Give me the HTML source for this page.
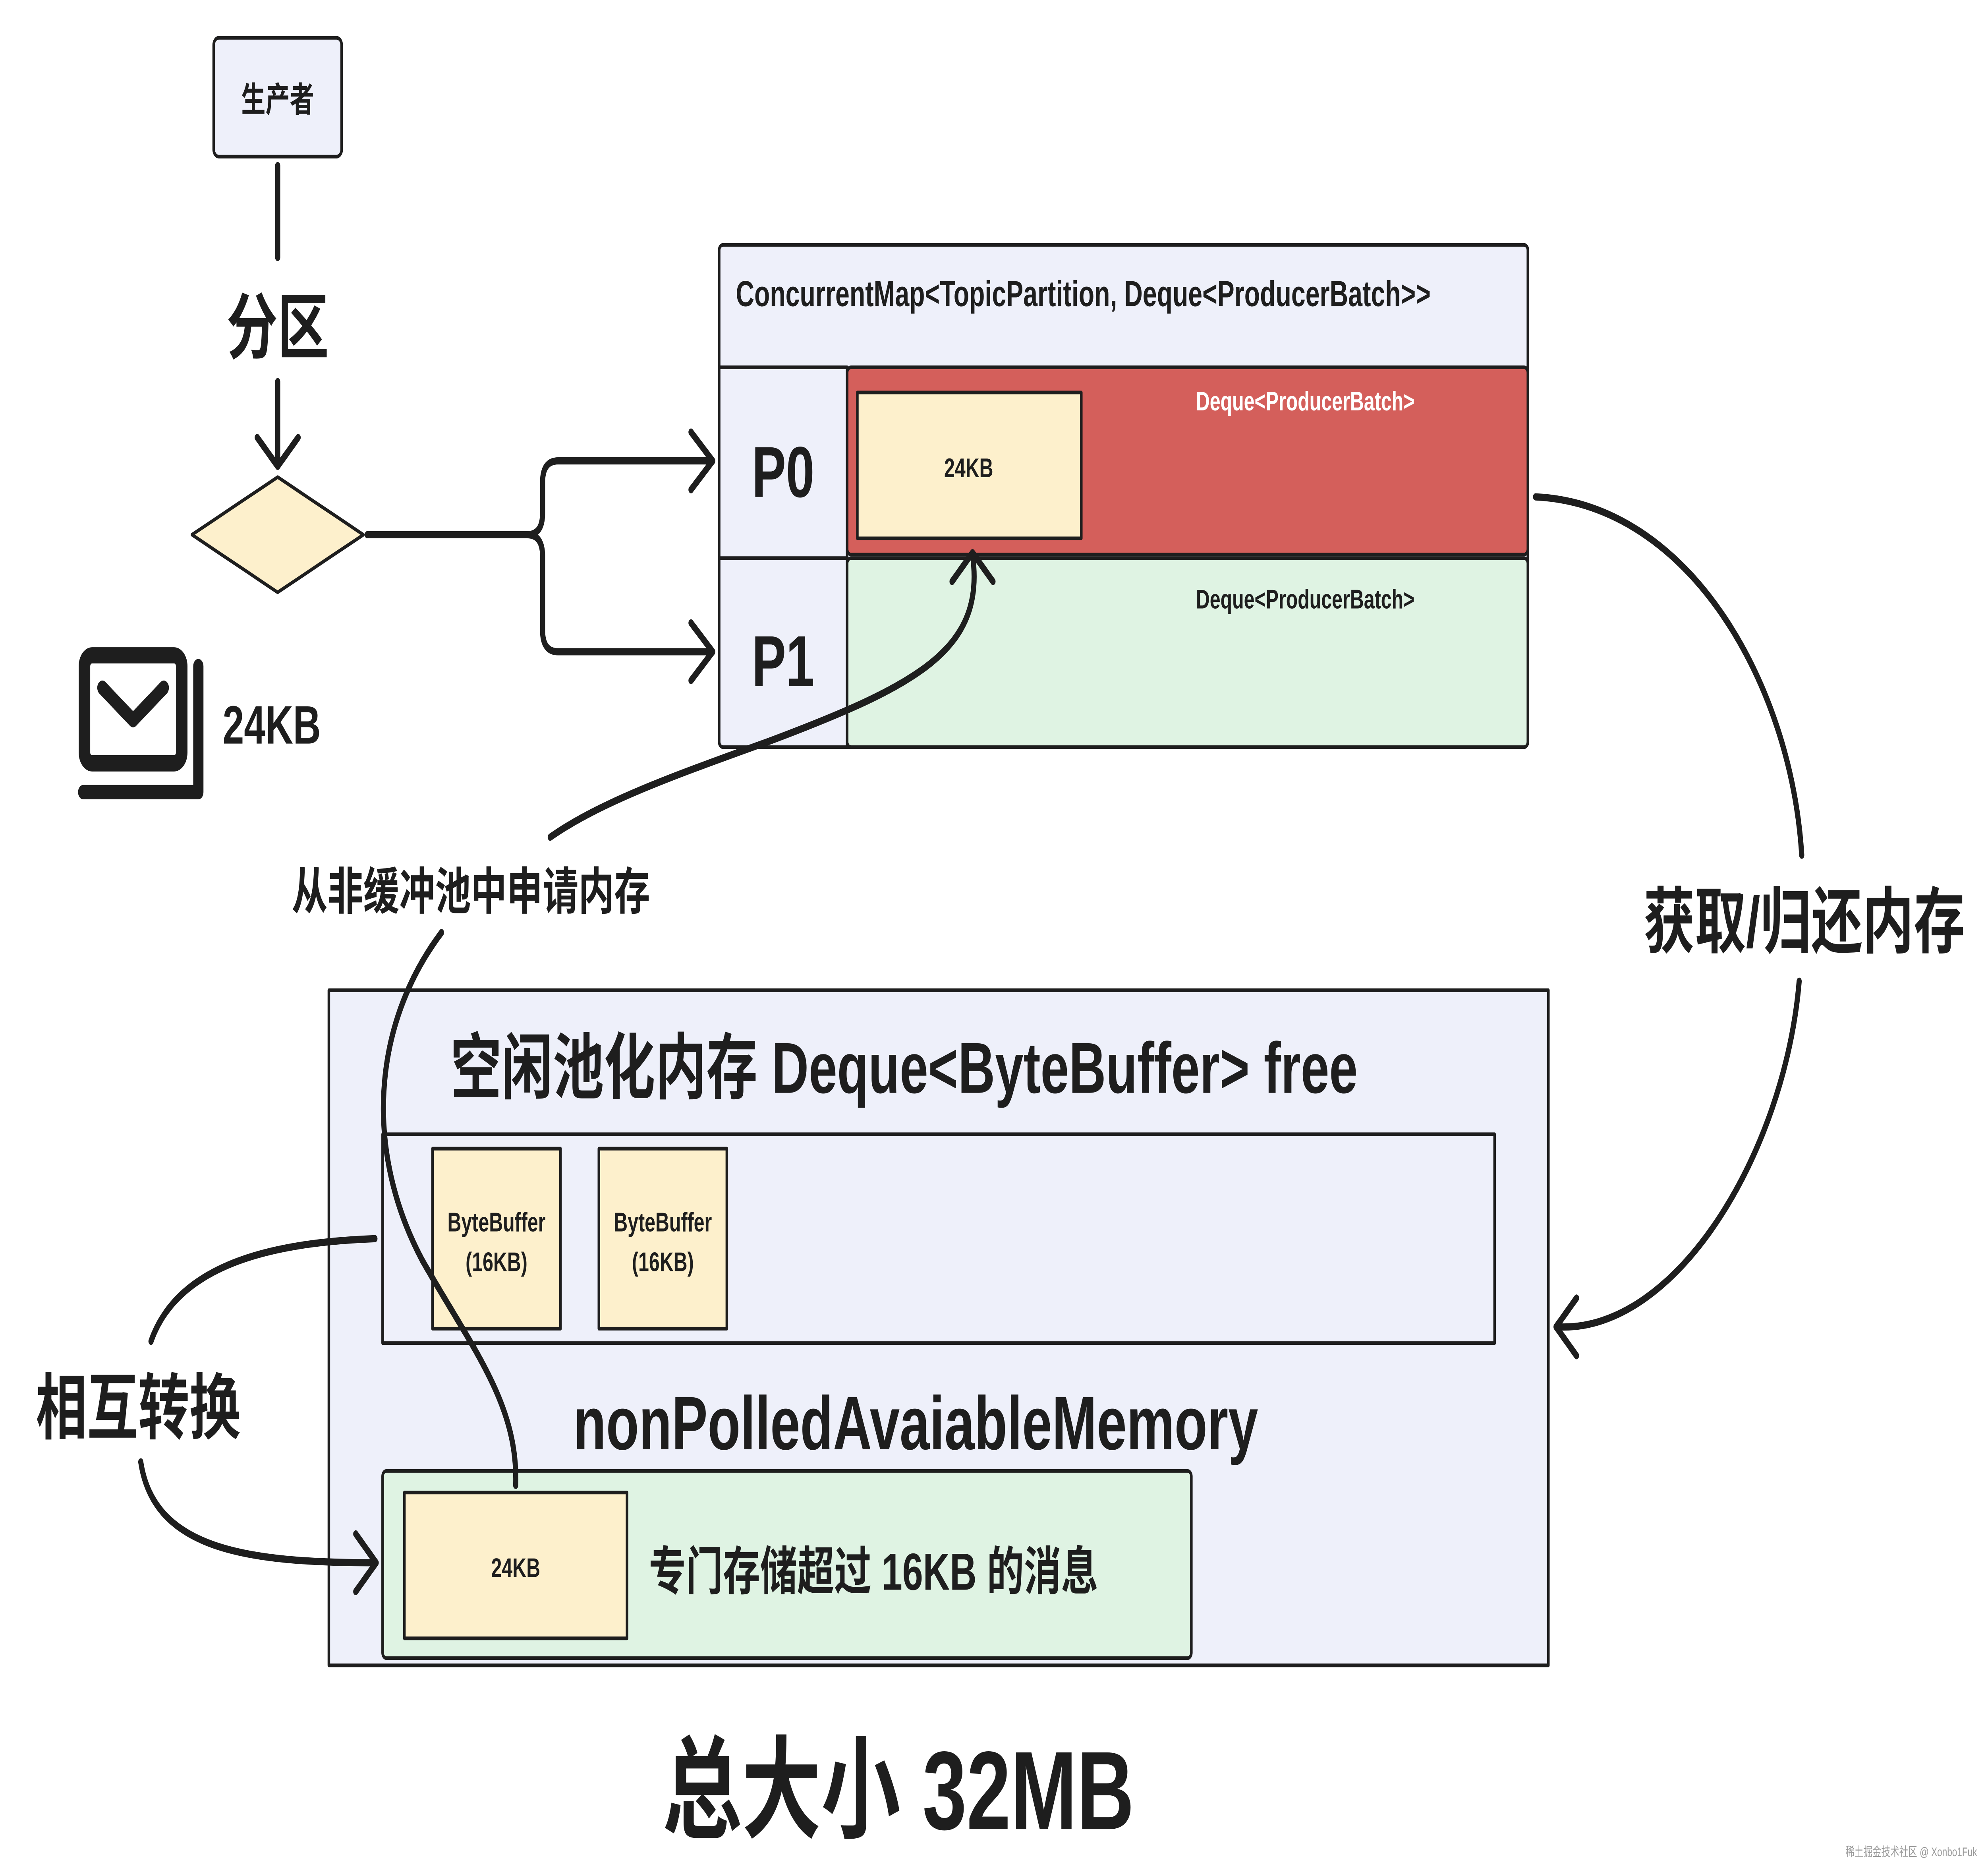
<!DOCTYPE html>
<html><head><meta charset="utf-8"><style>
html,body{margin:0;padding:0;background:#fff;width:100vw;height:100vh;overflow:hidden;}
svg{display:block;position:absolute;left:0;top:0;width:100vw;height:100vh;}
text{font-family:"Liberation Sans","Noto Sans CJK SC",sans-serif;fill:#1e1e1e;font-weight:bold;}
</style></head><body>
<svg viewBox="0 0 1552 1042" preserveAspectRatio="none" xmlns="http://www.w3.org/2000/svg">
<rect width="1552" height="1042" fill="#fff"/>
<g stroke="#1e1e1e" stroke-width="3" fill="none" stroke-linecap="round" stroke-linejoin="round">
<rect x="167" y="21" width="100" height="66" rx="4" fill="#eef0fa" stroke-width="2"/>
<line x1="217" y1="92" x2="217" y2="143" stroke-width="4"/>
<line x1="217" y1="212" x2="217" y2="258" stroke-width="4"/>
<polyline points="201,243 217,259 233,243" stroke-width="4"/>
<polygon points="150,297 217,265 284,297 217,329" fill="#fdf0cc" stroke-width="2"/>
<path d="M287,297 H412 Q424,297 424,285 V268 Q424,256 436,256 H556" stroke-width="4"/>
<path d="M412,297 Q424,297 424,309 V350 Q424,362 436,362 H556" stroke-width="4"/>
<polyline points="540,240 557,256 540,272" stroke-width="4"/>
<polyline points="540,346 557,362 540,378" stroke-width="4"/>
<rect x="66" y="364" width="76" height="60" rx="6" stroke-width="9"/>
<polyline points="80,382 104,400 128,382" stroke-width="8"/>
<path d="M155,370 V440 H65" stroke-width="8"/>
<rect x="562" y="136" width="632" height="279" rx="3" fill="#eef0fa" stroke-width="2"/>
<rect x="662" y="204" width="532" height="104" rx="3" fill="#d45f5b" stroke-width="2"/>
<rect x="662" y="310" width="532" height="105" rx="3" fill="#dff3e3" stroke-width="2"/>
<line x1="562" y1="204" x2="662" y2="204" stroke-width="2"/>
<line x1="562" y1="310" x2="662" y2="310" stroke-width="2"/>
<line x1="662" y1="204" x2="662" y2="415" stroke-width="2"/>
<rect x="670" y="218" width="175" height="81" fill="#fdf0cc" stroke-width="2"/>
<path d="M1200,276 C1320,280 1400,380 1408,475" stroke-width="4"/>
<path d="M1406,545 C1395,640 1310,740 1218,737" stroke-width="4"/>
<polyline points="1232,721 1216,737 1232,753" stroke-width="4"/>
<rect x="257" y="550" width="953" height="375" fill="#eef0fa" stroke-width="2"/>
<rect x="299" y="630" width="869" height="116" fill="#eef0fa" stroke-width="2"/>
<rect x="338" y="638" width="100" height="100" fill="#fdf0cc" stroke-width="2"/>
<rect x="468" y="638" width="100" height="100" fill="#fdf0cc" stroke-width="2"/>
<rect x="299" y="817" width="632" height="104" rx="3" fill="#dff3e3" stroke-width="2"/>
<rect x="316" y="829" width="174" height="81" fill="#fdf0cc" stroke-width="2"/>
<path d="M293,688 C220,690 140,700 118,745" stroke-width="4"/>
<path d="M110,812 C120,860 190,868 293,868" stroke-width="4"/>
<polyline points="278,852 294,868 278,884" stroke-width="4"/>
<path d="M760,308 C770,360 720,380 600,412 C530,430 470,445 430,465" stroke-width="4"/>
<polyline points="744,323 760,307 776,323" stroke-width="4"/>
<path d="M345,518 C290,570 285,640 330,700 C370,750 405,780 403,825" stroke-width="4"/>
</g>
<text x="217" y="62" font-size="19" text-anchor="middle">生产者</text>
<text x="217" y="196" font-size="40" text-anchor="middle">分区</text>
<text x="174" y="413" font-size="30">24KB</text>
<text x="575" y="170" font-size="20">ConcurrentMap&lt;TopicPartition, Deque&lt;ProducerBatch&gt;&gt;</text>
<text x="612" y="276" font-size="40" text-anchor="middle">P0</text>
<text x="612" y="381" font-size="40" text-anchor="middle">P1</text>
<text x="1020" y="228" font-size="15" text-anchor="middle" style="fill:#fff">Deque&lt;ProducerBatch&gt;</text>
<text x="1020" y="338" font-size="15" text-anchor="middle">Deque&lt;ProducerBatch&gt;</text>
<text x="757" y="265" font-size="15" text-anchor="middle">24KB</text>
<text x="1410" y="526" font-size="40" text-anchor="middle">获取/归还内存</text>
<text x="228" y="505" font-size="28">从非缓冲池中申请内存</text>
<text x="352" y="607" font-size="40">空闲池化内存 Deque&lt;ByteBuffer&gt; free</text>
<text x="388" y="684" font-size="15" text-anchor="middle">ByteBuffer</text>
<text x="388" y="706" font-size="15" text-anchor="middle">(16KB)</text>
<text x="518" y="684" font-size="15" text-anchor="middle">ByteBuffer</text>
<text x="518" y="706" font-size="15" text-anchor="middle">(16KB)</text>
<text x="448" y="805" font-size="42">nonPolledAvaiableMemory</text>
<text x="403" y="876" font-size="15" text-anchor="middle">24KB</text>
<text x="507" y="883" font-size="29">专门存储超过 16KB 的消息</text>
<text x="28" y="796" font-size="40">相互转换</text>
<text x="702" y="1016" font-size="62" text-anchor="middle">总大小 32MB</text>
<text x="1545" y="1031" font-size="7" text-anchor="end" style="fill:#999;font-weight:normal">稀土掘金技术社区 @ Xonbo1Fuk</text>
</svg>
</body></html>
